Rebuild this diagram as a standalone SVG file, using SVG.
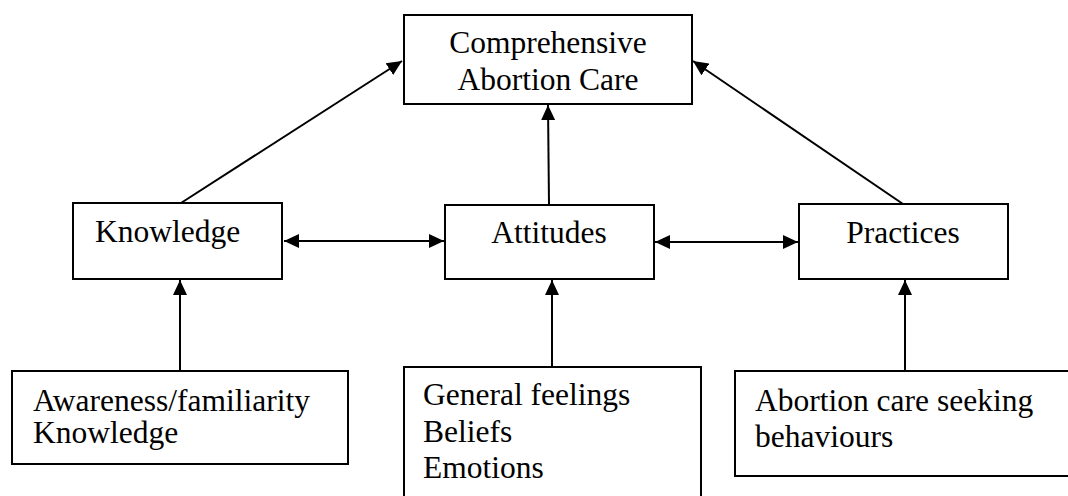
<svg xmlns="http://www.w3.org/2000/svg" width="1068" height="496" viewBox="0 0 1068 496">
<style>
text{font-family:'Liberation Serif','Times New Roman',Times,'DejaVu Serif',serif;font-size:31.5px;fill:#000}
.box{fill:#fff;stroke:#000;stroke-width:2}
.c{stroke:#000;stroke-width:2;fill:none}
</style>
<defs>
<marker id="ah" markerUnits="userSpaceOnUse" markerWidth="16" markerHeight="16" refX="15" refY="7" orient="auto-start-reverse" viewBox="0 0 16 14">
<path d="M0,0 L15,7 L0,14 Z" fill="#000"/>
</marker>
</defs>
<rect width="1068" height="496" fill="#fff"/>
<g id="connectors">
<line class="c" x1="181" y1="203" x2="402" y2="61" marker-end="url(#ah)"/>
<line class="c" x1="903" y1="204" x2="693" y2="61" marker-end="url(#ah)"/>
<line class="c" x1="549" y1="205" x2="548" y2="105" marker-end="url(#ah)"/>
<line class="c" x1="284" y1="241" x2="444" y2="241" marker-start="url(#ah)" marker-end="url(#ah)"/>
<line class="c" x1="655" y1="242" x2="798" y2="242" marker-start="url(#ah)" marker-end="url(#ah)"/>
<line class="c" x1="180" y1="371" x2="180" y2="280" marker-end="url(#ah)"/>
<line class="c" x1="552" y1="367" x2="552" y2="280" marker-end="url(#ah)"/>
<line class="c" x1="905" y1="371" x2="905" y2="280" marker-end="url(#ah)"/>
</g>
<g id="cac">
<rect class="box" x="404" y="15" width="288" height="89"/>
<text x="548" y="53" text-anchor="middle" font-family="Liberation Serif, serif">Comprehensive</text>
<text x="548" y="90" text-anchor="middle" font-family="Liberation Serif, serif">Abortion Care</text>
</g>
<g id="knowledge">
<rect class="box" x="73" y="203" width="209" height="76"/>
<text x="95" y="242" font-family="Liberation Serif, serif">Knowledge</text>
</g>
<g id="attitudes">
<rect class="box" x="445" y="205" width="209" height="74"/>
<text x="549" y="243" text-anchor="middle" font-family="Liberation Serif, serif">Attitudes</text>
</g>
<g id="practices">
<rect class="box" x="799" y="204" width="209" height="75"/>
<text x="903" y="243" text-anchor="middle" font-family="Liberation Serif, serif">Practices</text>
</g>
<g id="awareness">
<rect class="box" x="12" y="371" width="336" height="93"/>
<text x="33" y="411" font-family="Liberation Serif, serif">Awareness/familiarity</text>
<text x="33" y="443" font-family="Liberation Serif, serif">Knowledge</text>
</g>
<g id="feelings">
<rect class="box" x="404" y="367" width="297" height="140"/>
<text x="423" y="405" font-family="Liberation Serif, serif">General feelings</text>
<text x="423" y="442" font-family="Liberation Serif, serif">Beliefs</text>
<text x="423" y="478" font-family="Liberation Serif, serif">Emotions</text>
</g>
<g id="seeking">
<rect class="box" x="735" y="371" width="345" height="105"/>
<text x="755" y="411" font-family="Liberation Serif, serif">Abortion care seeking</text>
<text x="755" y="447" font-family="Liberation Serif, serif">behaviours</text>
</g>
</svg>
